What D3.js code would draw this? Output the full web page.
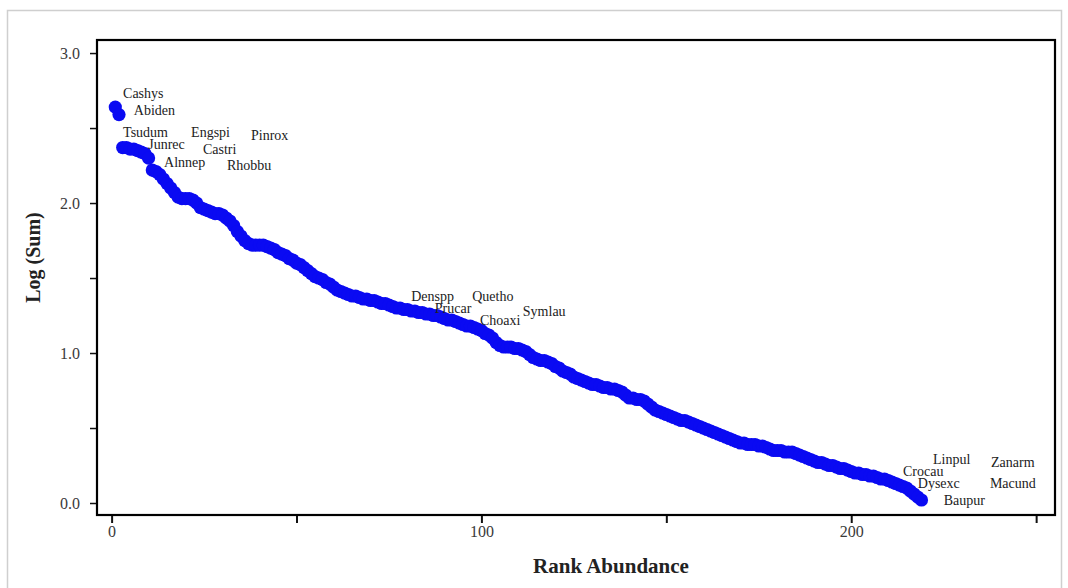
<!DOCTYPE html>
<html>
<head>
<meta charset="utf-8">
<script src="https://cdn.jsdelivr.net/npm/d3@7"></script>
<style>
  body { margin: 0; background: #fff; }
  svg { display: block; }
</style>
</head>
<body>
<div id="chart"></div>
<script>
// log(sum) by rank
const logSum = [
  2.64, 2.59,
  2.37, 2.37, 2.36, 2.36, 2.35, 2.34, 2.33, 2.30,
  2.22, 2.21, 2.19, 2.16, 2.13, 2.10, 2.07, 2.04, 2.03, 2.03,
  2.03, 2.02, 2.00, 1.97, 1.96, 1.95, 1.94, 1.93, 1.93, 1.92,
  1.90, 1.88, 1.85, 1.81, 1.78, 1.75, 1.73, 1.72, 1.72, 1.72,
  1.72, 1.71, 1.70, 1.69, 1.67, 1.66, 1.65, 1.63, 1.62, 1.60,
  1.59, 1.57, 1.55, 1.53, 1.51, 1.50, 1.49, 1.47, 1.46, 1.44,
  1.42, 1.41, 1.40, 1.39, 1.38, 1.38, 1.37, 1.36, 1.36, 1.35,
  1.35, 1.34, 1.33, 1.33, 1.32, 1.31, 1.30, 1.30, 1.29, 1.29,
  1.28, 1.28, 1.27, 1.27, 1.26, 1.26, 1.25, 1.25, 1.24, 1.23,
  1.22, 1.22, 1.21, 1.20, 1.19, 1.18, 1.18, 1.17, 1.16, 1.15,
  1.13, 1.12, 1.10, 1.07, 1.05, 1.04, 1.04, 1.04, 1.03, 1.03,
  1.02, 1.01, 0.99, 0.97, 0.96, 0.95, 0.95, 0.94, 0.93, 0.91,
  0.90, 0.88, 0.87, 0.86, 0.84, 0.83, 0.82, 0.81, 0.80, 0.79,
  0.79, 0.78, 0.77, 0.77, 0.76, 0.76, 0.75, 0.74, 0.72, 0.70,
  0.70, 0.69, 0.69, 0.68, 0.66, 0.64, 0.62, 0.61, 0.60, 0.59,
  0.58, 0.57, 0.56, 0.55, 0.55, 0.54, 0.53, 0.52, 0.51, 0.50,
  0.49, 0.48, 0.47, 0.46, 0.45, 0.44, 0.43, 0.42, 0.41, 0.40,
  0.40, 0.39, 0.39, 0.39, 0.38, 0.38, 0.37, 0.36, 0.35, 0.35,
  0.35, 0.34, 0.34, 0.34, 0.33, 0.32, 0.31, 0.30, 0.29, 0.28,
  0.27, 0.27, 0.26, 0.25, 0.25, 0.24, 0.23, 0.23, 0.22, 0.21,
  0.20, 0.20, 0.19, 0.19, 0.18, 0.18, 0.17, 0.16, 0.16, 0.15,
  0.14, 0.13, 0.12, 0.11, 0.10, 0.08, 0.06, 0.04, 0.02
];

// species labels: name, rank position, log position
const labelNames = ["Cashys", "Abiden", "Tsudum", "Engspi", "Pinrox", "Junrec", "Castri", "Alnnep", "Rhobbu",
  "Denspp", "Quetho", "Prucar", "Choaxi", "Symlau",
  "Linpul", "Zanarm", "Crocau", "Dysexc", "Macund", "Baupur"];
const labelRank = [3.1, 6.0, 3.1, 21.5, 37.7, 9.9, 24.7, 14.2, 31.2,
  81.0, 97.5, 87.4, 99.6, 111.2,
  222.1, 237.8, 214.0, 218.0, 237.5, 225.0];
const labelLog = [2.73, 2.62, 2.47, 2.47, 2.45, 2.39, 2.36, 2.27, 2.25,
  1.38, 1.38, 1.30, 1.22, 1.28,
  0.29, 0.27, 0.21, 0.13, 0.13, 0.02];

const xTicks = [0, 50, 100, 150, 200, 250];
const xTickLabels = ["0", "", "100", "", "200", ""];
const yTicks = [0, 0.5, 1, 1.5, 2, 2.5, 3];
const yTickLabels = ["0.0", "", "1.0", "", "2.0", "", "3.0"];

const width = 1068, height = 588;
const plotLeft = 97, plotRight = 1055, plotTop = 40, plotBottom = 515;

const svg = d3.select("#chart").append("svg")
  .attr("width", width)
  .attr("height", height);

// faint outer frame of the figure
svg.append("rect")
  .attr("x", 7.5).attr("y", 10.5)
  .attr("width", 1054).attr("height", 600)
  .attr("fill", "none")
  .attr("stroke", "#cfcfcf")
  .attr("stroke-width", 1.5);

let x = d3.scaleLinear()
  .domain([-3.95, 255.1])
  .range([plotLeft, plotRight]);

let y = d3.scaleLinear()
  .domain([-0.08, 3.087])
  .range([plotBottom, plotTop]);

const font = "'Liberation Serif', 'Times New Roman', serif";

// axes
const xAxis = svg.append("g")
  .attr("transform", `translate(0,${plotBottom})`)
  .call(d3.axisBottom(x)
    .tickValues(xTicks)
    .tickSize(8)
    .tickPadding(3)
    .tickFormat((d, i) => xTickLabels[i]));
xAxis.select(".domain").remove();
xAxis.selectAll("line").attr("stroke", "#111").attr("stroke-width", 2);
xAxis.selectAll("text")
  .attr("font-family", font)
  .attr("font-size", 16)
  .attr("fill", "#3a3a3a");

const yAxis = svg.append("g")
  .attr("transform", `translate(${plotLeft},0)`)
  .call(d3.axisLeft(y)
    .tickValues(yTicks)
    .tickSize(7)
    .tickPadding(10)
    .tickFormat((d, i) => yTickLabels[i]));
yAxis.select(".domain").remove();
yAxis.selectAll("line").attr("stroke", "#111").attr("stroke-width", 1.5);
yAxis.selectAll("text")
  .attr("font-family", font)
  .attr("font-size", 16)
  .attr("fill", "#3a3a3a");

// plot frame
svg.append("rect")
  .attr("x", plotLeft).attr("y", plotTop)
  .attr("width", plotRight - plotLeft).attr("height", plotBottom - plotTop)
  .attr("fill", "none")
  .attr("stroke", "#000")
  .attr("stroke-width", 2.2);

// points
svg.append("g")
  .selectAll("circle")
  .data(logSum)
  .join("circle")
  .attr("cx", (d, i) => x(i + 1))
  .attr("cy", d => y(d))
  .attr("r", 6.6)
  .attr("fill", "#0a0af2");

// species labels
svg.append("g")
  .selectAll("text")
  .data(labelNames)
  .join("text")
  .attr("x", (d, i) => x(labelRank[i]))
  .attr("y", (d, i) => y(labelLog[i]))
  .attr("dy", "0.35em")
  .attr("font-family", font)
  .attr("font-size", 14)
  .attr("fill", "#222")
  .text(d => d);

// axis titles
svg.append("text")
  .attr("x", (plotLeft + plotRight) / 2 + 35)
  .attr("y", 573)
  .attr("text-anchor", "middle")
  .attr("font-family", font)
  .attr("font-size", 21)
  .attr("font-weight", "bold")
  .attr("fill", "#222")
  .text("Rank Abundance");

svg.append("text")
  .attr("transform", `translate(40,${(plotTop + plotBottom) / 2 - 20}) rotate(-90)`)
  .attr("text-anchor", "middle")
  .attr("font-family", font)
  .attr("font-size", 20)
  .attr("font-weight", "bold")
  .attr("fill", "#222")
  .text("Log (Sum)");
</script>
</body>
</html>
